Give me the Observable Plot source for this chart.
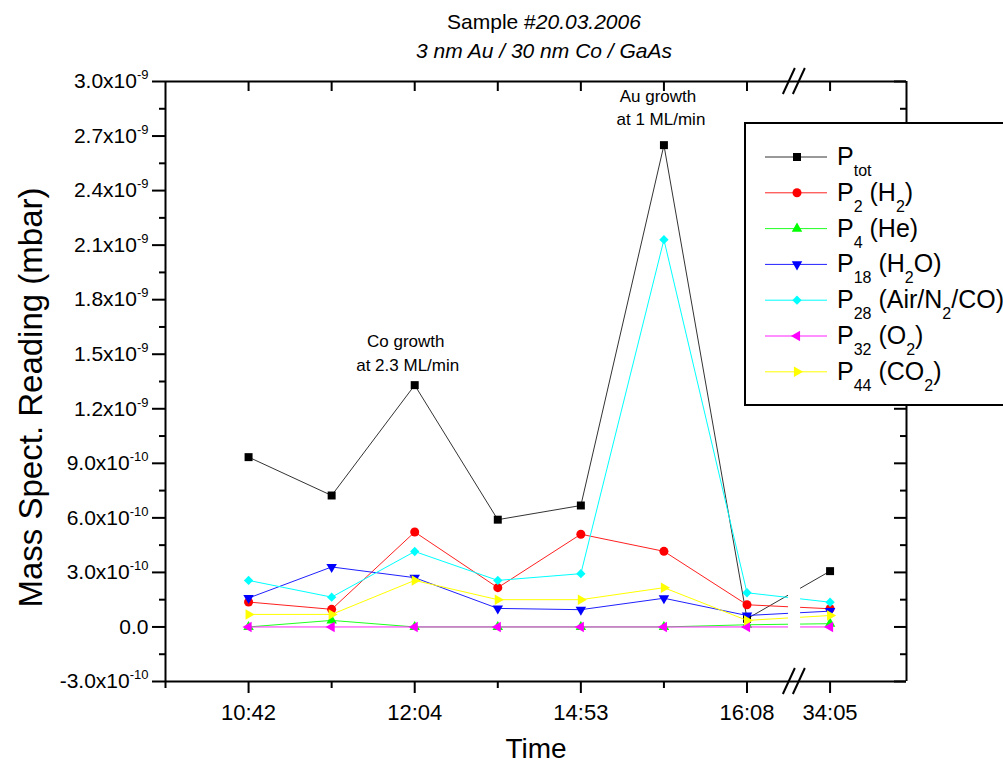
<!DOCTYPE html>
<html><head><meta charset="utf-8">
<script src="https://cdn.jsdelivr.net/npm/d3@7"></script>
<script src="https://cdn.jsdelivr.net/npm/@observablehq/plot@0.6"></script>
<style>
body{margin:0;background:#fff;font-family:"Liberation Sans",Arial,sans-serif;color:#000;}
#wrap{position:relative;width:1003px;height:774px;overflow:hidden;}
.title{position:absolute;left:0;width:1088px;text-align:center;font-size:21px;line-height:29px;}
</style></head><body>
<div id="wrap">
<div class="title" style="top:7px">Sample #<i>20.03.2006</i></div>
<div class="title" style="top:36px"><i>3 nm Au / 30 nm Co / GaAs</i></div>
</div>
<script>
// ---- data ----
const timeIndex = [0, 1, 2, 3, 4, 5, 6, 7];
const majorTicks = [0, 2, 4, 6, 7];
const tickLabels = ["10:42", "12:04", "14:53", "16:08", "34:05"];
const minorTicks = [-1, 1, 3, 5];
const Ptot = [9.34e-10, 7.23e-10, 1.33e-9, 5.90e-10, 6.68e-10, 2.65e-9, 4.5e-11, 3.07e-10];
const P2   = [1.37e-10, 0.97e-10, 5.22e-10, 2.16e-10, 5.10e-10, 4.16e-10, 1.22e-10, 1.00e-10];
const P4   = [0, 3.6e-11, 0, 0, 0, 0, 1.2e-11, 1.8e-11];
const P18  = [1.59e-10, 3.30e-10, 2.71e-10, 1.02e-10, 0.95e-10, 1.58e-10, 0.63e-10, 0.87e-10];
const P28  = [2.56e-10, 1.64e-10, 4.15e-10, 2.56e-10, 2.93e-10, 2.13e-9, 1.88e-10, 1.36e-10];
const P32  = [0, 0, 0, 0, 0, 0, 0, 0];
const P44  = [0.69e-10, 0.69e-10, 2.56e-10, 1.50e-10, 1.50e-10, 2.16e-10, 0.36e-10, 0.63e-10];
const seriesValues = [Ptot, P2, P4, P18, P28, P32, P44];
const seriesLabels = ["P_{tot}", "P_{2} (H_{2})", "P_{4} (He)", "P_{18} (H_{2}O)", "P_{28} (Air/N_{2}/CO)", "P_{32} (O_{2})", "P_{44} (CO_{2})"];
const yMajor = [-3e-10, 0, 3e-10, 6e-10, 9e-10, 1.2e-9, 1.5e-9, 1.8e-9, 2.1e-9, 2.4e-9, 2.7e-9, 3.0e-9];
const yLabels = ["-3.0x10^-10", "0.0", "3.0x10^-10", "6.0x10^-10", "9.0x10^-10", "1.2x10^-9", "1.5x10^-9", "1.8x10^-9", "2.1x10^-9", "2.4x10^-9", "2.7x10^-9", "3.0x10^-9"];
const yMinor = [-1.5e-10, 1.5e-10, 4.5e-10, 7.5e-10, 1.05e-9, 1.35e-9, 1.65e-9, 1.95e-9, 2.25e-9, 2.55e-9, 2.85e-9];
const annotations = [["Co growth", "at 2.3 ML/min"], ["Au growth", "at 1 ML/min"]];
const annotationIndex = [2, 5];

// ---- styles ----
const colors = ["#000000", "#ff0000", "#00ff00", "#0000ff", "#00ffff", "#ff00ff", "#ffff00"];
const lineColors = ["#333333", "#ff2020", "#20ff20", "#2020ff", "#00ffff", "#ff20ff", "#ffff00"];
const symbols = ["square", "circle", "triangle", "triangle", "diamond2", "triangle", "triangle"];
const rotations = [0, 0, 0, 180, 0, -90, 90];
const radii = [4.5, 4.5, 3.9, 3.9, 4.2, 3.9, 3.9];
const xDomain = [-1, 7.92];
const yDomain = [-3e-10, 3e-9];
const breakAt = 6.57, breakStart = 6.5, breakEnd = 6.645;

const W = 1003, H = 774, mL = 165, mR = 97, mT = 81, mB = 93;
const frameW = W - mL - mR, frameH = H - mT - mB;

const rows = seriesValues.flatMap((vals, s) => vals.map((v, i) => ({s, i: timeIndex[i], v})));
const marks = [];
seriesValues.forEach((vals, s) => {
  const d = rows.filter(r => r.s === s);
  marks.push(Plot.line(d, {x: "i", y: "v", stroke: lineColors[s], strokeWidth: 1}));
  marks.push(Plot.dot(d, {x: "i", y: "v", symbol: symbols[s], r: radii[s], rotate: rotations[s], fill: colors[s], stroke: "none"}));
});
// axis break gap in data lines
marks.push(Plot.rect([0], {x1: () => breakStart, x2: () => breakEnd, y1: () => -1.2e-10, y2: () => 4.6e-10, fill: "white"}));

const fmtY = d => yLabels[yMajor.findIndex(v => Math.abs(v - d) < 1e-13)];
const fmtX = d => tickLabels[majorTicks.indexOf(d)];

const plot = Plot.plot({
  width: W, height: H,
  marginLeft: mL, marginRight: mR, marginTop: mT, marginBottom: mB,
  style: {fontFamily: '"Liberation Sans", Arial, sans-serif', color: "black", background: "white"},
  x: {domain: xDomain},
  y: {domain: yDomain},
  marks: [
    ...marks,
    // frame lines
    Plot.ruleY([yDomain[0], yDomain[1]], {stroke: "black", strokeWidth: 2}),
    Plot.ruleX([xDomain[0], xDomain[1]], {stroke: "black", strokeWidth: 2}),
    // left axis
    Plot.axisY(yMajor, {anchor: "left", tickSize: 13, tickPadding: 4, tickFormat: fmtY, fontSize: 21, strokeWidth: 2, label: null}),
    Plot.axisY(yMinor, {anchor: "left", tickSize: 6, tickFormat: () => "", strokeWidth: 2, label: null}),
    // right axis inward ticks
    Plot.tickY(yMajor, {y: d => d, insetLeft: frameW - 12, stroke: "black", strokeWidth: 2}),
    Plot.tickY(yMinor, {y: d => d, insetLeft: frameW - 6, stroke: "black", strokeWidth: 2}),
    // bottom axis
    Plot.axisX(majorTicks, {anchor: "bottom", tickSize: 12, tickPadding: 11, tickFormat: fmtX, fontSize: 22, strokeWidth: 2, label: null}),
    Plot.axisX(minorTicks, {anchor: "bottom", tickSize: 7, tickFormat: () => "", strokeWidth: 2, label: null}),
    // top axis inward ticks
    Plot.tickX(timeIndex, {x: d => d, insetBottom: frameH - 10, stroke: "black", strokeWidth: 2}),
    // annotations
    Plot.text([annotationIndex[0]], {x: d => d, y: d => Ptot[d], text: () => annotations[0][0], dx: -9, dy: -44, fontSize: 17}),
    Plot.text([annotationIndex[0]], {x: d => d, y: d => Ptot[d], text: () => annotations[0][1], dx: -7, dy: -20, fontSize: 17}),
    Plot.text([annotationIndex[1]], {x: d => d, y: d => Ptot[d], text: () => annotations[1][0], dx: -6, dy: -49, fontSize: 17}),
    Plot.text([annotationIndex[1]], {x: d => d, y: d => Ptot[d], text: () => annotations[1][1], dx: -3, dy: -26, fontSize: 17}),
    // axis titles
    Plot.text(["Time"], {frameAnchor: "bottom", text: d => d, dx: 0, dy: 76, fontSize: 28}),
    Plot.text(["Mass Spect. Reading (mbar)"], {frameAnchor: "left", textAnchor: "middle", text: d => d, rotate: -90, dx: -134, dy: 16, fontSize: 33})
  ]
});

document.getElementById("wrap").prepend(plot);
plot.style.position = "absolute"; plot.style.left = "0"; plot.style.top = "0";
const svg = d3.select(plot);

// superscripts on y tick labels
svg.selectAll("text").each(function() {
  const t = d3.select(this);
  if (t.selectAll("tspan").size() > 0) return;
  const s = t.text();
  if (s.includes("^")) {
    const [base, exp] = s.split("^");
    t.text(base);
    t.append("tspan").attr("dy", "-9px").attr("font-size", "13px").text(exp);
  }
});

// break marks
const xs = plot.scale("x"), ys = plot.scale("y");
const bx = xs.apply(breakAt);
for (const y0 of [ys.apply(yDomain[0]), ys.apply(yDomain[1])]) {
  for (const off of [-5, 5]) {
    svg.append("line").attr("x1", bx + off - 6).attr("y1", y0 + 13).attr("x2", bx + off + 6).attr("y2", y0 - 13)
      .attr("stroke", "black").attr("stroke-width", 2);
  }
}

// legend
const lg = svg.append("g").attr("font-family", '"Liberation Sans", Arial, sans-serif').attr("text-anchor", "start");
lg.append("rect").attr("x", 745).attr("y", 123).attr("width", 400).attr("height", 282)
  .attr("fill", "white").attr("stroke", "black").attr("stroke-width", 2);
const sym = {square: d3.symbolSquare, circle: d3.symbolCircle, triangle: d3.symbolTriangle, diamond2: d3.symbolDiamond2};
seriesLabels.forEach((lab, s) => {
  const y = 157 + s * 35.8;
  lg.append("line").attr("x1", 765).attr("x2", 827).attr("y1", y).attr("y2", y).attr("stroke", lineColors[s]).attr("stroke-width", 1);
  lg.append("path").attr("d", d3.symbol(sym[symbols[s]], Math.PI * radii[s] * radii[s])())
    .attr("transform", `translate(797,${y}) rotate(${rotations[s]})`).attr("fill", colors[s]);
  const t = lg.append("text").attr("x", 837).attr("y", y + 8).attr("font-size", 25)
    .attr("text-anchor", "start").style("white-space", "pre");
  const parts = lab.split(/(_\{[^}]*\})/).filter(p => p.length);
  let sub = false;
  parts.forEach(p => {
    if (p.startsWith("_{")) {
      t.append("tspan").attr("dy", sub ? 0 : 11).attr("font-size", 16).text(p.slice(2, -1));
      sub = true;
    } else {
      t.append("tspan").attr("dy", sub ? -11 : 0).text(p);
      sub = false;
    }
  });
});
</script>
</body></html>
